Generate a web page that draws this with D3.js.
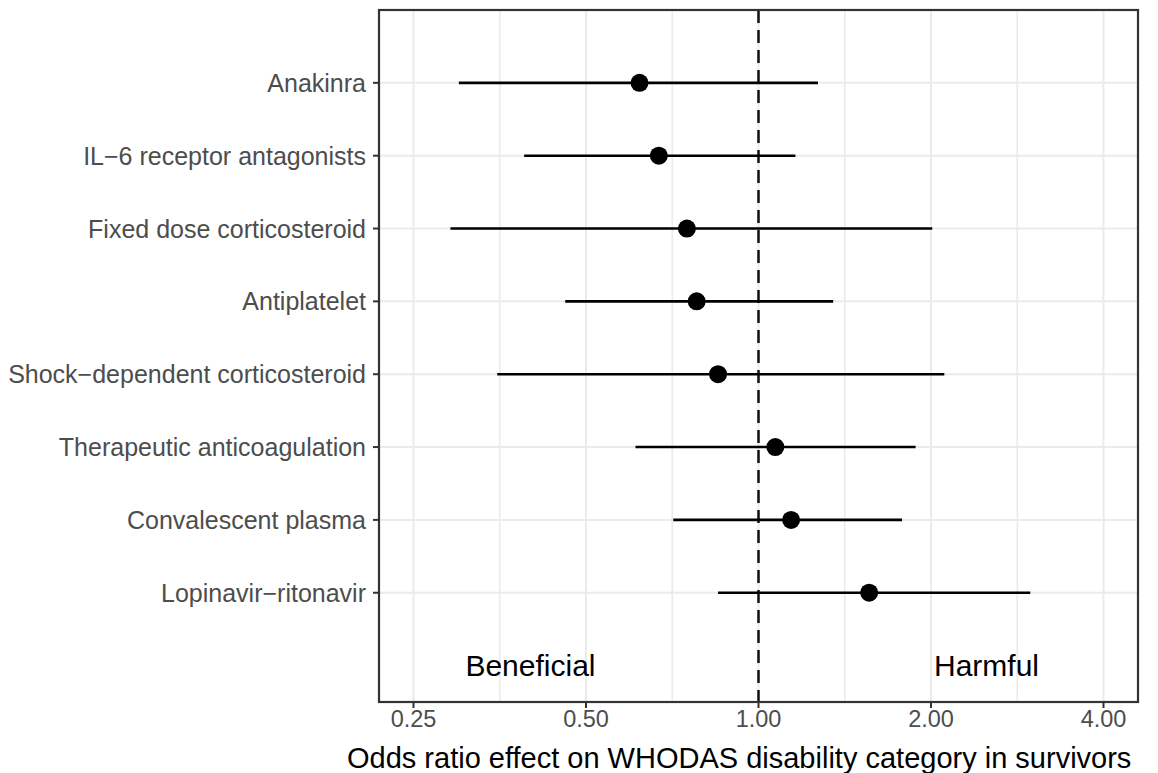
<!DOCTYPE html>
<html>
<head>
<meta charset="utf-8">
<script src="https://cdn.jsdelivr.net/npm/d3@7"></script>
<style>
  html, body { margin: 0; padding: 0; background: #fff; }
  svg { display: block; }
  text { font-family: "Liberation Sans", Arial, sans-serif; }
</style>
</head>
<body>
<svg id="chart" width="1158" height="773"></svg>
<script>
// ---- data ----
const categories = [
  "Anakinra",
  "IL\u22126 receptor antagonists",
  "Fixed dose corticosteroid",
  "Antiplatelet",
  "Shock\u2212dependent corticosteroid",
  "Therapeutic anticoagulation",
  "Convalescent plasma",
  "Lopinavir\u2212ritonavir"
];
const estimates = [0.62, 0.67, 0.75, 0.78, 0.85, 1.07, 1.14, 1.56];
const lower     = [0.30, 0.39, 0.29, 0.46, 0.35, 0.61, 0.71, 0.85];
const upper     = [1.27, 1.16, 2.01, 1.35, 2.11, 1.88, 1.78, 2.98];
const xTicks = [0.25, 0.5, 1, 2, 4];
const xTickLabels = ["0.25", "0.50", "1.00", "2.00", "4.00"];
const annotations = [
  { label: "Beneficial", x: 0.4 },
  { label: "Harmful", x: 2.5 }
];
const xTitle = "Odds ratio effect on WHODAS disability category in survivors";

// ---- layout ----
const panel = { left: 379, right: 1138, top: 10, bottom: 702 };
const svg = d3.select("#chart");

const expandLog = 0.05 * (Math.log2(4) - Math.log2(0.25));
const x = d3.scaleLog().base(2)
  .domain([Math.pow(2, Math.log2(0.25) - expandLog), Math.pow(2, Math.log2(4) + expandLog)])
  .range([panel.left, panel.right]);

// numeric y: top category highest; annotation row at 1
const n = categories.length;
const y = d3.scaleLinear().domain([0.5, n + 2]).range([panel.bottom, panel.top]);
const yPos = i => y(n + 1 - i);

// minor breaks (geometric midpoints)
const minor = [];
for (let i = 0; i < xTicks.length - 1; i++) minor.push(Math.sqrt(xTicks[i] * xTicks[i + 1]));

const grid = svg.append("g");
grid.selectAll("line.minor").data(minor).join("line")
  .attr("x1", d => x(d)).attr("x2", d => x(d))
  .attr("y1", panel.top).attr("y2", panel.bottom)
  .attr("stroke", "#EBEBEB").attr("stroke-width", 1.6);
grid.selectAll("line.majx").data(xTicks).join("line")
  .attr("x1", d => x(d)).attr("x2", d => x(d))
  .attr("y1", panel.top).attr("y2", panel.bottom)
  .attr("stroke", "#EBEBEB").attr("stroke-width", 2);
grid.selectAll("line.majy").data(categories).join("line")
  .attr("x1", panel.left).attr("x2", panel.right)
  .attr("y1", (d, i) => yPos(i)).attr("y2", (d, i) => yPos(i))
  .attr("stroke", "#EBEBEB").attr("stroke-width", 2);

// reference line at 1
svg.append("line")
  .attr("x1", x(1)).attr("x2", x(1))
  .attr("y1", panel.top).attr("y2", panel.bottom)
  .attr("stroke", "#111").attr("stroke-width", 2.5)
  .attr("stroke-dasharray", "13,7");

// error bars
svg.append("g").selectAll("line").data(categories).join("line")
  .attr("x1", (d, i) => x(lower[i])).attr("x2", (d, i) => x(upper[i]))
  .attr("y1", (d, i) => yPos(i)).attr("y2", (d, i) => yPos(i))
  .attr("stroke", "#000").attr("stroke-width", 2.6);

// points
svg.append("g").selectAll("circle").data(categories).join("circle")
  .attr("cx", (d, i) => x(estimates[i])).attr("cy", (d, i) => yPos(i))
  .attr("r", 9).attr("fill", "#000");

// annotations
svg.append("g").selectAll("text").data(annotations).join("text")
  .attr("x", d => x(d.x)).attr("y", y(1))
  .attr("dy", "0.36em")
  .attr("text-anchor", "middle")
  .attr("font-size", 30).attr("fill", "#000")
  .text(d => d.label);

// panel border
svg.append("rect")
  .attr("x", panel.left).attr("y", panel.top)
  .attr("width", panel.right - panel.left).attr("height", panel.bottom - panel.top)
  .attr("fill", "none").attr("stroke", "#333").attr("stroke-width", 2.2);

// y axis ticks and labels
const yAx = svg.append("g");
yAx.selectAll("line").data(categories).join("line")
  .attr("x1", panel.left - 6).attr("x2", panel.left)
  .attr("y1", (d, i) => yPos(i)).attr("y2", (d, i) => yPos(i))
  .attr("stroke", "#333").attr("stroke-width", 2);
yAx.selectAll("text").data(categories).join("text")
  .attr("x", panel.left - 13).attr("y", (d, i) => yPos(i))
  .attr("dy", "0.36em")
  .attr("text-anchor", "end")
  .attr("font-size", 25).attr("fill", "#4D4D4D")
  .text(d => d);

// x axis ticks and labels
const xAx = svg.append("g");
xAx.selectAll("line").data(xTicks).join("line")
  .attr("x1", d => x(d)).attr("x2", d => x(d))
  .attr("y1", panel.bottom).attr("y2", panel.bottom + 6)
  .attr("stroke", "#333").attr("stroke-width", 2);
xAx.selectAll("text").data(xTicks).join("text")
  .attr("x", d => x(d)).attr("y", 727)
  .attr("text-anchor", "middle")
  .attr("font-size", 23.5).attr("fill", "#4D4D4D")
  .text((d, i) => xTickLabels[i]);

// x title
svg.append("text")
  .attr("x", 347).attr("y", 768)
  .attr("text-anchor", "start")
  .attr("font-size", 29).attr("fill", "#000")
  .text(xTitle);
</script>
</body>
</html>
